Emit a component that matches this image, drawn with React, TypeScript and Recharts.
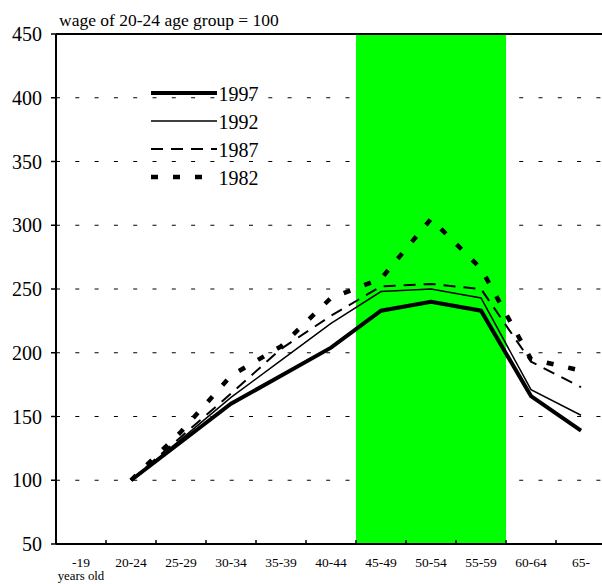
import React from 'react';
import { LineChart, Line, XAxis, YAxis, CartesianGrid, ReferenceArea, ReferenceLine, Legend } from 'recharts';

const ages = ['-19', '20-24', '25-29', '30-34', '35-39', '40-44', '45-49', '50-54', '55-59', '60-64', '65-'];

const wage1997 = [null, 100, 130, 160, 182, 204, 233, 240, 233, 166, 139];
const wage1992 = [null, 100, 132, 165, 194, 223, 248, 250, 243, 171, 151];
const wage1987 = [null, 100, 134, 168, 203, 229, 252, 254, 250, 193, 173];
const wage1982 = [null, 100, 138, 182, 205, 243, 258, 305, 266, 195, 186];

const yTicks = [50, 100, 150, 200, 250, 300, 350, 400, 450];

const bandFrom = '45-49';
const bandTo = '55-59';

const FONT = 'Liberation Serif';

const series = [
  { key: 'y1997', name: '1997', width: 4, dash: undefined as string | undefined },
  { key: 'y1992', name: '1992', width: 1.5, dash: undefined as string | undefined },
  { key: 'y1987', name: '1987', width: 2, dash: '12 8' },
  { key: 'y1982', name: '1982', width: 4.5, dash: '7 15' },
];

const data = ages.map((age, i) => ({
  idx: i,
  age,
  y1997: wage1997[i],
  y1992: wage1992[i],
  y1987: wage1987[i],
  y1982: wage1982[i],
}));

// centres carry the labels, half steps carry the small inner tick marks
const xTicks = ages.flatMap((_, i) => (i < ages.length - 1 ? [i, i + 0.5] : [i]));

const AgeTick = ({ x, y, payload }: any) => {
  const v = payload.value;
  if (!Number.isInteger(v)) {
    return <line x1={x} x2={x} y1={y - 1} y2={y - 4} stroke="#000" strokeWidth={1.5} />;
  }
  return (
    <g>
      <text x={x} y={y + 23} textAnchor="middle" fontSize={13.5} fontFamily={FONT} fill="#000">
        {ages[v]}
      </text>
      {v === 0 && (
        <text x={x} y={y + 36} textAnchor="middle" fontSize={12.8} fontFamily={FONT} fill="#000">
          years old
        </text>
      )}
    </g>
  );
};

const ValueTick = ({ x, y, payload }: any) => (
  <text x={x} y={y} dy={7} textAnchor="end" fontSize={20} fontFamily={FONT} fill="#000">
    {payload.value}
  </text>
);

const KeyBox = ({ payload }: any) => {
  const names = (payload || []).map((p: any) => p.value);
  const items = series.filter((s) => names.includes(s.name));
  return (
    <div style={{ fontFamily: FONT, fontSize: 20, color: '#000' }}>
      {items.map((s) => (
        <div key={s.key} style={{ display: 'flex', alignItems: 'center', height: 28 }}>
          <svg width={66} height={28}>
            <line x1={0} x2={66} y1={14} y2={14} stroke="#000" strokeWidth={s.width} strokeDasharray={s.dash} />
          </svg>
          <span style={{ marginLeft: 1.5, lineHeight: '28px', paddingTop: 2 }}>{s.name}</span>
        </div>
      ))}
    </div>
  );
};

export default function App() {
  const i0 = ages.indexOf(bandFrom) - 0.5;
  const i1 = ages.indexOf(bandTo) + 0.5;
  return (
    <div style={{ position: 'absolute', left: 0, top: 0, width: 602, height: 584, overflow: 'hidden', background: '#fff' }}>
      <div
        style={{
          position: 'absolute',
          left: 59,
          top: 9,
          fontFamily: FONT,
          fontSize: 17.5,
          lineHeight: '22px',
          color: '#000',
          whiteSpace: 'nowrap',
        }}
      >
        wage of 20-24 age group = 100
      </div>
      <LineChart width={610} height={584} data={data} margin={{ top: 34, right: 4, bottom: 0, left: 0 }}>
        <CartesianGrid vertical={false} stroke="#000" strokeDasharray="4 15.3" />
        <ReferenceLine y={450} stroke="#000" strokeWidth={2} />
        <ReferenceArea x1={i0} x2={i1} fill="#00FF00" fillOpacity={1} stroke="none" />
        <XAxis
          dataKey="idx"
          type="number"
          domain={[-0.5, ages.length - 0.5]}
          ticks={xTicks}
          interval={0}
          tick={<AgeTick />}
          tickLine={false}
          tickSize={0}
          tickMargin={0}
          height={40}
          axisLine={{ stroke: '#000', strokeWidth: 2 }}
        />
        <YAxis
          domain={[50, 450]}
          ticks={yTicks}
          interval={0}
          width={56}
          tickSize={5}
          tickMargin={9}
          tick={<ValueTick />}
          tickLine={{ stroke: '#000', strokeWidth: 1.5 }}
          axisLine={{ stroke: '#000', strokeWidth: 2 }}
        />
        <Legend
          layout="vertical"
          align="center"
          verticalAlign="middle"
          content={<KeyBox />}
          wrapperStyle={{ position: 'absolute', left: 151, top: 79, width: 120, height: 'auto' }}
        />
        {[...series].reverse().map((s) => (
          <Line
            key={s.key}
            type="linear"
            dataKey={s.key}
            name={s.name}
            stroke="#000"
            strokeWidth={s.width}
            strokeDasharray={s.dash}
            dot={false}
            activeDot={false}
            isAnimationActive={false}
          />
        ))}
      </LineChart>
    </div>
  );
}
